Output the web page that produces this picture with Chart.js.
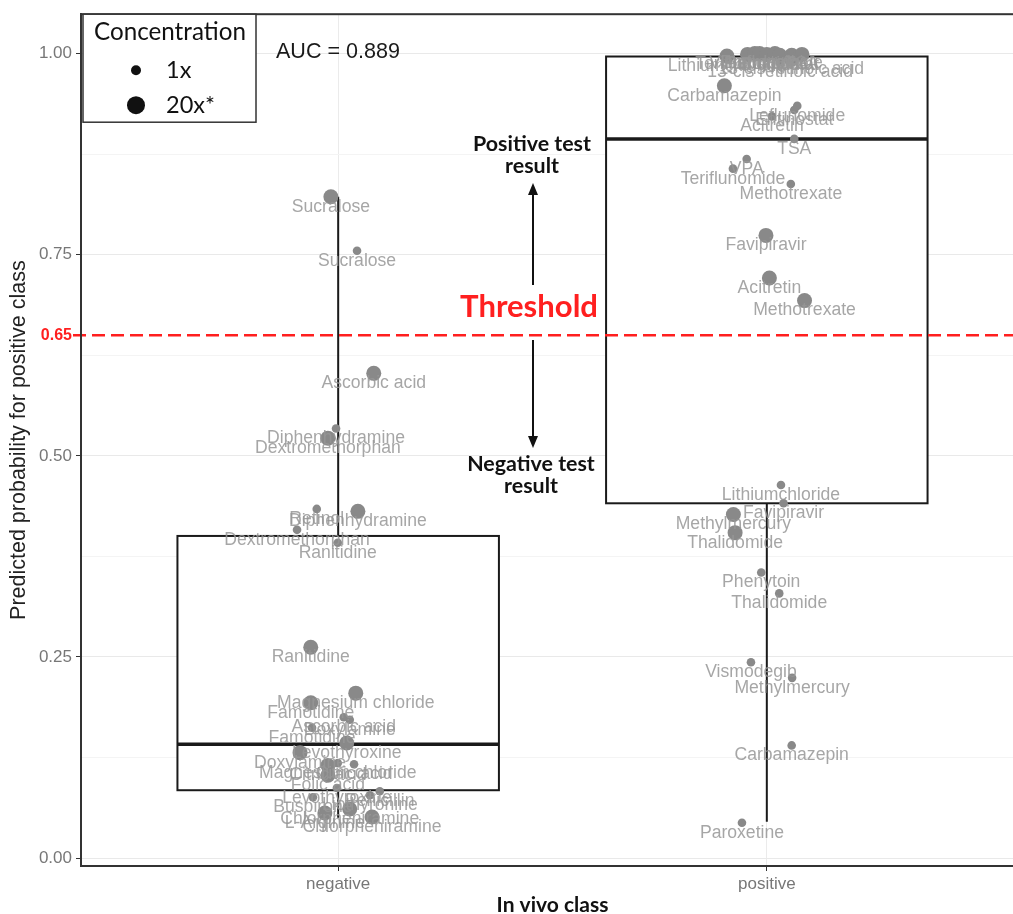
<!DOCTYPE html>
<html>
<head>
<meta charset="utf-8">
<script src="https://cdn.jsdelivr.net/npm/chart.js@4/dist/chart.umd.min.js"></script>
<style>
  html, body { margin: 0; padding: 0; background: #fff; overflow: hidden; }
  #wrap { position: relative; width: 1040px; height: 914px; }
</style>
</head>
<body>
<div id="wrap"><canvas id="c" width="1040" height="914"></canvas></div>
<script>
// ---- data -----------------------------------------------------------------
const categories = ['negative', 'positive'];
const yTickValues = [0, 0.25, 0.5, 0.75, 1];
const yMinorValues = [0.125, 0.375, 0.625, 0.875];
const threshold = 0.65;
const aucLabel = 'AUC = 0.889';
const concentrations = ['1x', '20x*'];

// in vivo negative compounds: name, jittered class position, probability, concentration
const negNames = ['Sucralose', 'Sucralose', 'Ascorbic acid', 'Diphenhydramine', 'Dextromethorphan',
  'Retinol', 'Diphenhydramine', 'Dextromethorphan', 'Ranitidine', 'Ranitidine',
  'Magnesium chloride', 'Famotidine', 'Ascorbic acid', 'Doxylamine', 'Famotidine',
  'Levothyroxine', 'Doxylamine', 'Magnesium chloride', 'Citric acid', 'Citric acid',
  'Folic acid', 'Levothyroxine', 'Penicillin', 'Liothyronine', 'Buspirone',
  'Chlorpheniramine', 'L-Arginine', 'Chlorpheniramine'];
const negX = [0.983, 1.044, 1.083, 0.995, 0.976,
  0.950, 1.046, 0.904, 0.999, 0.936,
  1.041, 0.936, 1.013, 1.027, 0.939,
  1.020, 0.911, 0.999, 1.037, 0.976,
  0.976, 0.997, 1.097, 1.074, 0.941,
  1.027, 0.969, 1.079];
const negY = [0.822, 0.755, 0.6025, 0.534, 0.522,
  0.434, 0.431, 0.408, 0.392, 0.262,
  0.205, 0.193, 0.175, 0.172, 0.162,
  0.143, 0.131, 0.118, 0.1165, 0.115,
  0.103, 0.087, 0.083, 0.078, 0.0756,
  0.061, 0.056, 0.051];
const negConc = ['20x*', '1x', '20x*', '1x', '20x*',
  '1x', '20x*', '1x', '1x', '20x*',
  '20x*', '20x*', '1x', '1x', '1x',
  '20x*', '20x*', '1x', '1x', '20x*',
  '20x*', '1x', '1x', '1x', '1x',
  '20x*', '20x*', '20x*'];

// in vivo positive compounds
const posNames = ['Lithiumchloride', 'Teriflunomide', 'Vismodegib', 'Phenytoin', 'Paroxetine',
  'Leflunomide', 'Entinostat', 'VPA', 'TSA', '13-cis retinoic acid', '13-cis retinoic acid',
  'Carbamazepin', 'Leflunomide', 'Entinostat', 'Acitretin', 'TSA', 'VPA', 'Teriflunomide',
  'Methotrexate', 'Favipiravir', 'Acitretin', 'Methotrexate', 'Lithiumchloride', 'Favipiravir',
  'Methylmercury', 'Thalidomide', 'Phenytoin', 'Thalidomide', 'Vismodegib', 'Methylmercury',
  'Carbamazepin', 'Paroxetine'];
const posX = [1.907, 1.955, 1.972, 1.983, 2.000,
  2.019, 2.030, 2.058, 2.082, 2.031, 2.057,
  1.901, 2.071, 2.064, 2.012, 2.064, 1.953, 1.921,
  2.056, 1.998, 2.006, 2.088, 2.033, 2.039,
  1.922, 1.926, 1.987, 2.029, 1.963, 2.059,
  2.058, 1.942];
const posY = [0.997, 0.999, 1.000, 1.000, 0.999,
  1.000, 0.998, 0.998, 0.999, 0.989, 0.993,
  0.960, 0.935, 0.930, 0.922, 0.894, 0.869, 0.857,
  0.838, 0.774, 0.721, 0.693, 0.4637, 0.441,
  0.427, 0.4045, 0.355, 0.329, 0.2434, 0.224,
  0.140, 0.0438];
const posConc = ['20x*', '20x*', '20x*', '20x*', '20x*',
  '20x*', '20x*', '20x*', '20x*', '1x', '20x*',
  '20x*', '1x', '1x', '1x', '1x', '1x', '1x',
  '1x', '20x*', '20x*', '20x*', '1x', '1x',
  '20x*', '20x*', '1x', '1x', '1x', '1x',
  '1x', '1x'];

// box-and-whisker summary per class (negative, positive)
const boxLow = [0.050, 0.045];
const boxQ1 = [0.0843, 0.441];
const boxMedian = [0.1413, 0.894];
const boxQ3 = [0.4004, 0.9964];
const boxHigh = [0.822, 1.000];

// ---- build datasets ---------------------------------------------------------
function pointsFor(conc) {
  const out = [];
  negNames.forEach((n, i) => { if (negConc[i] === conc) out.push({ x: negX[i], y: negY[i], name: n }); });
  posNames.forEach((n, i) => { if (posConc[i] === conc) out.push({ x: posX[i], y: posY[i], name: n }); });
  return out;
}

const POINT_COLOR = '#898989';
const LABEL_COLOR = 'rgba(150,150,150,0.85)';
const SANS = '"Liberation Sans", Arial, sans-serif';
const HUMANIST = 'Lato, "Open Sans", sans-serif';

function fitSize(ctx, text, weight, family, width) {
  ctx.font = `${weight} 100px ${family}`;
  return 100 * width / ctx.measureText(text).width;
}

function arrow(ctx, x, y0, y1) {
  const dir = y1 < y0 ? 1 : -1;
  ctx.beginPath();
  ctx.moveTo(x, y0);
  ctx.lineTo(x, y1 + dir * 8);
  ctx.stroke();
  ctx.beginPath();
  ctx.moveTo(x, y1);
  ctx.lineTo(x - 5, y1 + dir * 12);
  ctx.lineTo(x + 5, y1 + dir * 12);
  ctx.closePath();
  ctx.fill();
}

const decorations = {
  id: 'decorations',
  beforeDatasetsDraw(chart) {
    const { ctx, chartArea: a, scales: { x, y } } = chart;
    ctx.save();
    // boxes with whiskers
    const boxWidth = 0.75;
    categories.forEach((c, i) => {
      const cx = x.getPixelForValue(i + 1);
      const x0 = x.getPixelForValue(i + 1 - boxWidth / 2);
      const x1 = x.getPixelForValue(i + 1 + boxWidth / 2);
      const yLow = y.getPixelForValue(boxLow[i]);
      const yQ1 = y.getPixelForValue(boxQ1[i]);
      const yMed = y.getPixelForValue(boxMedian[i]);
      const yQ3 = y.getPixelForValue(boxQ3[i]);
      const yHigh = y.getPixelForValue(boxHigh[i]);
      ctx.strokeStyle = '#1a1a1a';
      ctx.lineWidth = 2;
      ctx.beginPath();
      ctx.moveTo(cx, yLow); ctx.lineTo(cx, yQ1);
      ctx.moveTo(cx, yQ3); ctx.lineTo(cx, yHigh);
      ctx.stroke();
      ctx.fillStyle = '#fff';
      ctx.fillRect(x0, yQ3, x1 - x0, yQ1 - yQ3);
      ctx.strokeRect(x0, yQ3, x1 - x0, yQ1 - yQ3);
      ctx.lineWidth = 3.5;
      ctx.beginPath();
      ctx.moveTo(x0, yMed); ctx.lineTo(x1, yMed);
      ctx.stroke();
    });
    // decision threshold
    const yt = y.getPixelForValue(threshold);
    ctx.strokeStyle = '#ff1f1f';
    ctx.lineWidth = 2.5;
    ctx.setLineDash([13, 6]);
    ctx.beginPath();
    ctx.moveTo(a.left - 8, yt); ctx.lineTo(a.right, yt);
    ctx.stroke();
    ctx.setLineDash([]);
    ctx.restore();
  },
  afterDatasetsDraw(chart) {
    const { ctx } = chart;
    ctx.save();
    ctx.font = `17.6px ${SANS}`;
    ctx.fillStyle = LABEL_COLOR;
    ctx.textAlign = 'center';
    ctx.textBaseline = 'middle';
    chart.data.datasets.forEach((ds, di) => {
      const meta = chart.getDatasetMeta(di);
      meta.data.forEach((el, j) => {
        ctx.fillText(ds.data[j].name, el.x, el.y + 10);
      });
    });
    ctx.restore();
  },
  afterDraw(chart) {
    const { ctx, chartArea: a, scales: { y } } = chart;
    ctx.save();
    // panel frame
    ctx.strokeStyle = '#333';
    ctx.lineWidth = 2;
    ctx.strokeRect(a.left, a.top, a.right - a.left, a.bottom - a.top);

    // threshold tick label
    const yt = y.getPixelForValue(threshold);
    ctx.fillStyle = '#ff1f1f';
    ctx.font = `bold 16px ${SANS}`;
    ctx.textAlign = 'right';
    ctx.textBaseline = 'middle';
    ctx.fillText(threshold.toFixed(2), a.left - 9, yt);

    // legend
    const lx = a.left + 2, ly = a.top;
    ctx.fillStyle = '#fff';
    ctx.fillRect(lx, ly, 173, 108);
    ctx.strokeStyle = '#333';
    ctx.lineWidth = 1.5;
    ctx.strokeRect(lx, ly, 173, 108);
    ctx.fillStyle = '#111';
    ctx.textAlign = 'left';
    const titleSize = fitSize(ctx, 'Concentration', '', HUMANIST, 152);
    ctx.font = `${titleSize}px ${HUMANIST}`;
    ctx.fillText('Concentration', lx + 11, ly + 18);
    const keySize = fitSize(ctx, concentrations[1], '', HUMANIST, 49);
    ctx.font = `${keySize}px ${HUMANIST}`;
    const radii = [5, 9];
    concentrations.forEach((c, i) => {
      const ky = ly + 56 + i * 35;
      ctx.beginPath();
      ctx.arc(lx + 53, ky, radii[i], 0, Math.PI * 2);
      ctx.fill();
      ctx.fillText(c, lx + 83, ky);
    });

    // AUC
    ctx.font = `${fitSize(ctx, aucLabel, '', SANS, 124)}px ${SANS}`;
    ctx.fillStyle = '#1a1a1a';
    ctx.fillText(aucLabel, 276, 52);

    // annotations
    ctx.textAlign = 'center';
    ctx.fillStyle = '#ff1f1f';
    ctx.font = `bold ${fitSize(ctx, 'Threshold', 'bold', HUMANIST, 138)}px ${HUMANIST}`;
    ctx.fillText('Threshold', 529, 307);

    ctx.fillStyle = '#111';
    const noteSize = fitSize(ctx, 'Positive test', 'bold', HUMANIST, 118);
    ctx.font = `bold ${noteSize}px ${HUMANIST}`;
    ctx.fillText('Positive test', 532, 144);
    ctx.fillText('result', 532, 166);
    ctx.fillText('Negative test', 531, 464);
    ctx.fillText('result', 531, 486);

    ctx.strokeStyle = '#111';
    ctx.lineWidth = 2;
    arrow(ctx, 533, 285, 183);
    arrow(ctx, 533, 340, 448);
    ctx.restore();
  }
};

const majorSet = new Set(yTickValues);

new Chart(document.getElementById('c'), {
  type: 'scatter',
  data: {
    datasets: concentrations.map((c, i) => ({
      label: c,
      data: pointsFor(c),
      pointRadius: i === 0 ? 4.3 : 7.5,
      pointHoverRadius: i === 0 ? 4.3 : 7.5,
      backgroundColor: POINT_COLOR,
      borderWidth: 0
    }))
  },
  options: {
    responsive: false,
    animation: false,
    events: [],
    layout: { padding: { top: 12, right: 16, left: 0, bottom: 0 } },
    plugins: { legend: { display: false }, tooltip: { enabled: false } },
    scales: {
      x: {
        type: 'linear',
        min: 0.4,
        max: 2.6,
        afterBuildTicks: s => { s.ticks = categories.map((c, i) => ({ value: i + 1 })); },
        afterFit: s => { s.height = 48; },
        ticks: {
          callback: v => categories[v - 1],
          font: { family: SANS, size: 17 },
          color: '#777',
          padding: 3,
          maxRotation: 0,
          autoSkip: false
        },
        grid: { color: '#ebebeb', lineWidth: 1, tickLength: 5, tickColor: '#333' },
        border: { display: true, color: '#333', width: 2 },
        title: {
          display: true,
          text: 'In vivo class',
          font: { family: HUMANIST, size: 21, weight: 'bold' },
          color: '#111',
          padding: { top: 0, bottom: -4 }
        }
      },
      y: {
        type: 'linear',
        min: -0.0099,
        max: 1.049,
        afterBuildTicks: s => {
          s.ticks = [...yTickValues, ...yMinorValues].sort((p, q) => p - q).map(v => ({ value: v }));
        },
        afterFit: s => { s.width = 81; },
        ticks: {
          callback: v => majorSet.has(v) ? v.toFixed(2) : '',
          font: { family: SANS, size: 17 },
          color: '#777',
          padding: 4,
          autoSkip: false
        },
        grid: {
          color: c => (c.tick && majorSet.has(c.tick.value)) ? '#e9e9e9' : '#f4f4f4',
          lineWidth: 1,
          tickLength: 5,
          tickColor: c => (c.tick && majorSet.has(c.tick.value)) ? '#333' : 'rgba(0,0,0,0)'
        },
        border: { display: true, color: '#333', width: 2 },
        title: {
          display: true,
          text: 'Predicted probability for positive class',
          font: { family: SANS, size: 21.5 },
          color: '#222',
          padding: { top: 6, bottom: 0 }
        }
      }
    }
  },
  plugins: [decorations]
});
</script>
</body>
</html>
